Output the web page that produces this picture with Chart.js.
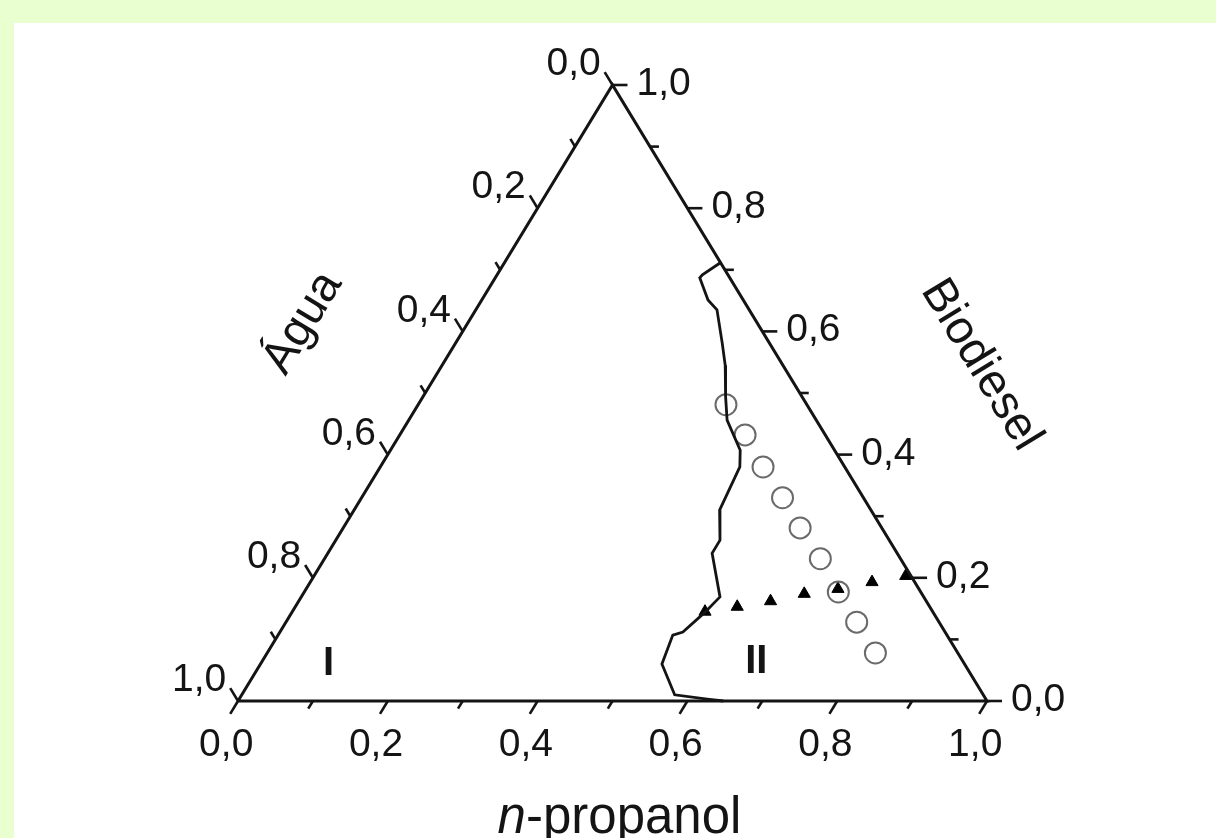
<!DOCTYPE html>
<html>
<head>
<meta charset="utf-8">
<script src="https://cdn.jsdelivr.net/npm/chart.js@4/dist/chart.umd.min.js"></script>
<style>
  html, body { margin: 0; padding: 0; background: #eaffcf; }
  canvas { display: block; }
</style>
</head>
<body>
<canvas id="ternary" width="1216" height="838"></canvas>
<script>
// compositions as mass fractions: propanol (p), biodiesel (b); water = 1 - p - b
const binodalPropanol  = [0.288, 0.274, 0.273, 0.302, 0.322, 0.356, 0.378, 0.404, 0.425, 0.467, 0.480, 0.488, 0.513, 0.513, 0.559, 0.551, 0.538, 0.527, 0.536, 0.578, 0.625, 0.648];
const binodalBiodiesel = [0.711, 0.692, 0.687, 0.651, 0.635, 0.581, 0.545, 0.494, 0.456, 0.407, 0.380, 0.310, 0.261, 0.240, 0.169, 0.143, 0.112, 0.107, 0.060, 0.010, 0.003, 0.000];

const tiePropanol  = [0.551, 0.590, 0.630, 0.669, 0.710, 0.750, 0.790];
const tieBiodiesel = [0.145, 0.153, 0.162, 0.174, 0.182, 0.193, 0.203];

const feedPropanol  = [0.411, 0.461, 0.511, 0.562, 0.610, 0.662, 0.713, 0.762, 0.812];
const feedBiodiesel = [0.481, 0.432, 0.380, 0.330, 0.281, 0.231, 0.177, 0.128, 0.078];

const tickValues = [0, 0.2, 0.4, 0.6, 0.8, 1.0];
const tickLabels = ['0,0', '0,2', '0,4', '0,6', '0,8', '1,0'];
const minorTicks = [0.1, 0.3, 0.5, 0.7, 0.9];

const regionNames = ['I', 'II'];
const regionPropanol  = [0.100, 0.669];
const regionBiodiesel = [0.042, 0.046];

// ternary -> cartesian (x along bottom, y = biodiesel height)
const toXY = (p, b) => ({ x: p + b / 2, y: b });

const outline = [toXY(0, 0), toXY(1, 0), toXY(0, 1), toXY(0, 0)];
const binodal = binodalPropanol.map((p, i) => toXY(p, binodalBiodiesel[i]));
const tieLine = tiePropanol.map((p, i) => toXY(p, tieBiodiesel[i]));
const feeds = feedPropanol.map((p, i) => toXY(p, feedBiodiesel[i]));

const FONT = '"Liberation Sans", Arial, sans-serif';
const INK = '#141414';

const ternaryAxes = {
  id: 'ternaryAxes',
  beforeDraw(chart) {
    const ctx = chart.ctx;
    ctx.save();
    ctx.fillStyle = '#eaffcf';
    ctx.fillRect(0, 0, chart.width, chart.height);
    ctx.fillStyle = '#ffffff';
    ctx.fillRect(14, 23, chart.width - 14, chart.height - 23);
    ctx.restore();
  },
  afterDatasetsDraw(chart) {
    const ctx = chart.ctx;
    const sx = chart.scales.x, sy = chart.scales.y;
    const pt = (p, b) => {
      const c = toXY(p, b);
      return { x: sx.getPixelForValue(c.x), y: sy.getPixelForValue(c.y) };
    };
    const A = pt(0, 0), B = pt(1, 0), C = pt(0, 1);
    const unit = (u, v) => {
      const dx = v.x - u.x, dy = v.y - u.y, l = Math.hypot(dx, dy);
      return { x: dx / l, y: dy / l };
    };
    const dBottom = unit(C, A);   // down-left, parallel to left side
    const dLeft = unit(B, C);     // up-left, parallel to right side
    const dRight = { x: 1, y: 0 };

    ctx.save();
    ctx.strokeStyle = INK;
    ctx.lineWidth = 2.6;
    ctx.fillStyle = INK;
    ctx.font = '39px ' + FONT;

    const tick = (base, d, len) => {
      ctx.beginPath();
      ctx.moveTo(base.x, base.y);
      ctx.lineTo(base.x + d.x * len, base.y + d.y * len);
      ctx.stroke();
      return { x: base.x + d.x * len, y: base.y + d.y * len };
    };

    minorTicks.forEach(v => {
      tick(pt(v, 0), dBottom, 9);
      tick(pt(1 - v, v), dRight, 9);
      tick(pt(0, 1 - v), dLeft, 9);
    });

    tickValues.forEach((v, i) => {
      // bottom: n-propanol
      let e = tick(pt(v, 0), dBottom, 15);
      ctx.textAlign = 'center';
      ctx.fillText(tickLabels[i], e.x - 4, e.y + 42);
      // right: biodiesel
      const rb = pt(1 - v, v);
      e = tick(rb, dRight, 15);
      ctx.textAlign = 'left';
      ctx.fillText(tickLabels[i], e.x + 9, rb.y + 10);
      // left: water
      e = tick(pt(0, 1 - v), dLeft, 15);
      ctx.textAlign = 'right';
      ctx.fillText(tickLabels[i], e.x - 4, e.y + 3);
    });

    // axis titles
    ctx.font = '47px ' + FONT;
    ctx.textAlign = 'center';
    ctx.textBaseline = 'middle';
    ctx.save();
    ctx.translate(303, 323);
    ctx.rotate(Math.atan2(C.y - A.y, C.x - A.x));
    ctx.fillText('Água', 0, 0);
    ctx.restore();
    ctx.save();
    ctx.translate(981, 365);
    ctx.rotate(Math.atan2(B.y - C.y, B.x - C.x));
    ctx.fillText('Biodiesel', 0, 0);
    ctx.restore();

    ctx.textBaseline = 'alphabetic';
    ctx.textAlign = 'left';
    const italic = 'italic 51px ' + FONT, normal = '51px ' + FONT;
    ctx.font = italic;
    const wN = ctx.measureText('n').width;
    ctx.font = normal;
    const wRest = ctx.measureText('-propanol').width;
    const x0 = (A.x + B.x) / 2 + 7 - (wN + wRest) / 2;
    ctx.font = italic;
    ctx.fillText('n', x0, 833);
    ctx.font = normal;
    ctx.fillText('-propanol', x0 + wN, 833);

    // region labels
    ctx.font = 'bold 40px ' + FONT;
    ctx.textAlign = 'center';
    regionNames.forEach((name, i) => {
      const q = pt(regionPropanol[i], regionBiodiesel[i]);
      ctx.fillText(name, q.x, q.y);
    });
    ctx.restore();
  }
};

new Chart(document.getElementById('ternary'), {
  type: 'scatter',
  data: {
    datasets: [
      {
        label: 'outline',
        data: outline,
        showLine: true,
        borderColor: INK,
        borderWidth: 3,
        pointRadius: 0,
        clip: false
      },
      {
        label: 'binodal',
        data: binodal,
        showLine: true,
        borderColor: INK,
        borderWidth: 2.8,
        pointRadius: 0,
        tension: 0,
        clip: false
      },
      {
        label: 'feed',
        data: feeds,
        pointStyle: 'circle',
        pointRadius: 10.5,
        borderColor: '#6a6a6a',
        borderWidth: 2,
        backgroundColor: 'rgba(255,255,255,0)',
        clip: false
      },
      {
        label: 'tie line',
        data: tieLine,
        pointStyle: 'triangle',
        pointRadius: 7,
        borderColor: '#000',
        borderWidth: 1,
        backgroundColor: '#000',
        clip: false
      }
    ]
  },
  options: {
    responsive: false,
    animation: false,
    layout: { padding: { left: 238, right: 229, top: 85, bottom: 137 } },
    plugins: { legend: { display: false }, tooltip: { enabled: false } },
    scales: {
      x: { type: 'linear', min: 0, max: 1, display: false },
      y: { type: 'linear', min: 0, max: 1, display: false }
    }
  },
  plugins: [ternaryAxes]
});
</script>
</body>
</html>
